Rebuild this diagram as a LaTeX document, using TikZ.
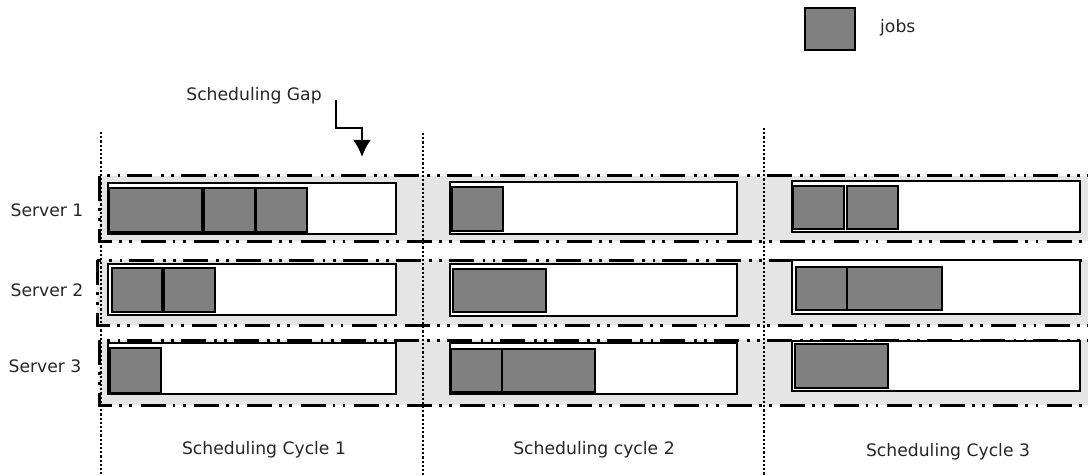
\documentclass[tikz,border=0pt]{standalone}
\usepackage{fontspec}
\setmainfont{DejaVu Sans}
\usetikzlibrary{arrows.meta}
\begin{document}
\begin{tikzpicture}[x=1pt,y=-1pt,
  lbl/.style={font=\fontsize{17.2}{20}\selectfont, text=black!85, inner sep=0pt},
  band/.style={fill=black!10, draw=black, line width=3pt,
    dash pattern=on 25pt off 7pt on 2.8pt off 7.3pt on 2.8pt off 8.4pt},
  srv/.style={draw=black, fill=white, line width=2.8pt, inner sep=0pt, outer sep=0pt,
    anchor=north west},
  job/.style={draw=black, fill=black!50, line width=2.8pt, inner sep=0pt, outer sep=0pt,
    anchor=north west},
  cycleline/.style={line width=2.4pt, dash pattern=on 2.2pt off 2pt},
  gap/.style={line width=2.5pt, -{Latex[length=17pt,width=18pt]}}
]
\useasboundingbox (0,0) rectangle (1088,476);
\clip (0,0) rectangle (1088,476);

% bands
\draw[band] (99,176) rectangle (1100,241);
\draw[band] (97,260) rectangle (1100,325);
\draw[band] (99,340) rectangle (1100,405);

% cycle separators
\coordinate (c1t) at (101,132); \coordinate (c1b) at (101,476);
\coordinate (c2t) at (423,133); \coordinate (c2b) at (423,476);
\coordinate (c3t) at (764,128); \coordinate (c3b) at (764,476);
\draw[cycleline] (c1t) -- (c1b);
\draw[cycleline] (c2t) -- (c2b);
\draw[cycleline] (c3t) -- (c3b);

% server boxes
\node[srv, minimum width=288pt, minimum height=51pt] (s11) at (108,183) {};
\node[srv, minimum width=288pt, minimum height=51pt] (s21) at (108,264) {};
\node[srv, minimum width=288pt, minimum height=51pt] (s31) at (108,343) {};
\node[srv, minimum width=287pt, minimum height=52pt] (s12) at (450,182) {};
\node[srv, minimum width=287pt, minimum height=52pt] (s22) at (450,264) {};
\node[srv, minimum width=287pt, minimum height=51pt] (s32) at (450,343) {};
\node[srv, minimum width=288pt, minimum height=51pt] (s13) at (792,181) {};
\node[srv, minimum width=288pt, minimum height=54pt] (s23) at (792,260) {};
\node[srv, minimum width=288pt, minimum height=50pt] (s33) at (792,341) {};

% jobs cycle 1
\node[job, minimum width=93pt, minimum height=44pt] (j111) at (109,188) {};
\node[job, minimum width=51pt, minimum height=44pt] (j112) at (204,188) {};
\node[job, minimum width=51pt, minimum height=44pt] (j113) at (256,188) {};
\node[job, minimum width=50pt, minimum height=44pt] (j211) at (112,268) {};
\node[job, minimum width=51pt, minimum height=44pt] (j212) at (164,268) {};
\node[job, minimum width=51pt, minimum height=45pt] (j311) at (110,348) {};
% jobs cycle 2
\node[job, minimum width=51pt, minimum height=44pt] (j121) at (452,187) {};
\node[job, minimum width=93pt, minimum height=43pt] (j221) at (453,269) {};
\node[job, minimum width=51pt, minimum height=43pt] (j321) at (451,349) {};
\node[job, minimum width=93pt, minimum height=43pt] (j322) at (502,349) {};
% jobs cycle 3
\node[job, minimum width=51pt, minimum height=43pt] (j131) at (793,186) {};
\node[job, minimum width=51pt, minimum height=43pt] (j132) at (847,186) {};
\node[job, minimum width=51pt, minimum height=43pt] (j231) at (796,267) {};
\node[job, minimum width=95pt, minimum height=43pt] (j232) at (847,267) {};
\node[job, minimum width=93pt, minimum height=44pt] (j331) at (795,344) {};

% legend
\node[job, minimum width=50pt, minimum height=42pt] (leg) at (805,8) {};
\node[lbl, anchor=west] (legt) at (880,28) {jobs};

% labels
\node[lbl] (srv1) at (47,210) {Server 1};
\node[lbl] (srv2) at (47,290) {Server 2};
\node[lbl] (srv3) at (45,366) {Server 3};
\node[lbl] (cyc1) at (264,450) {Scheduling Cycle 1};
\node[lbl] (cyc2) at (594,450) {Scheduling cycle 2};
\node[lbl] (cyc3) at (948,452) {Scheduling Cycle 3};
\node[lbl] (gapl) at (254,96) {Scheduling Gap};

% gap arrow
\coordinate (ga) at (336,100);
\coordinate (gb) at (362,157);
\draw[gap] (ga) |- (349,128) -| (gb);
\end{tikzpicture}
\end{document}
